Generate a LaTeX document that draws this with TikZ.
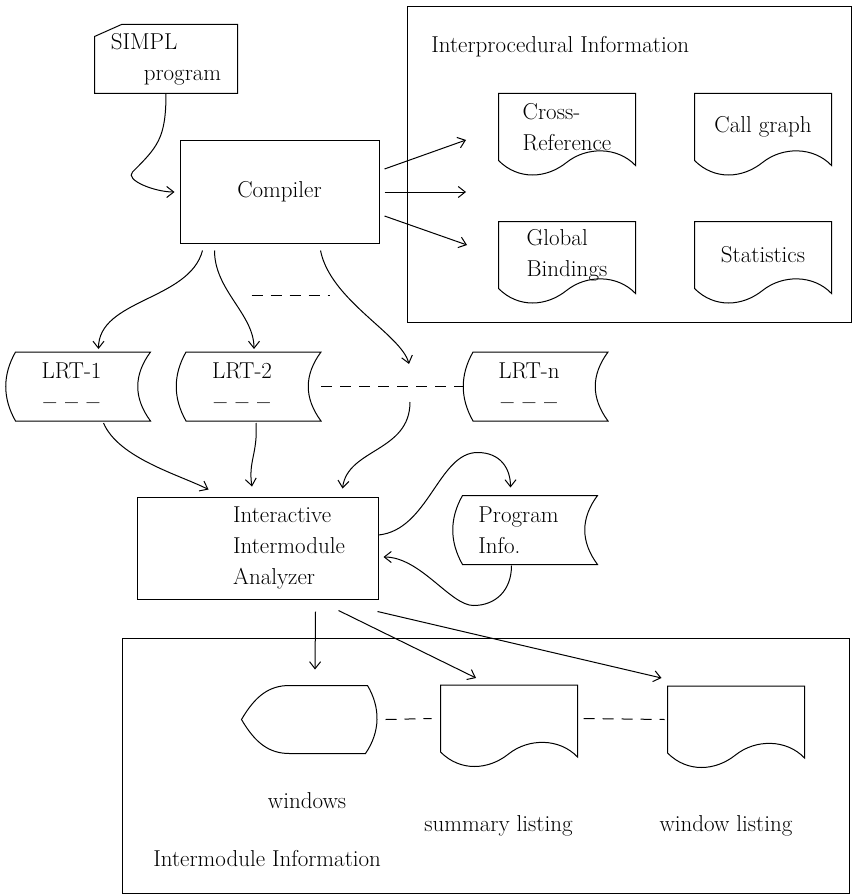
\documentclass[tikz,border=0pt]{standalone}
\usetikzlibrary{calc, arrows.meta}

\begin{document}
\begin{tikzpicture}[x=1pt, y=-1pt, line width=1pt,
  font=\fontsize{23}{31}\selectfont,
  arrowline/.style={-{Straight Barb[length=7pt,width=11pt]}},
  dashline/.style={dash pattern=on 11pt off 8pt},
  plainbox/.style={draw, inner sep=0pt},
  shapenode/.style={inner sep=0pt, align=left},
  docnode/.style={shapenode, minimum width=136pt, minimum height=66pt},
  storenode/.style={shapenode, minimum width=131pt, minimum height=68pt, align=center},
]
  \useasboundingbox (0,0) rectangle (856,896);

  % frames
  \node[plainbox, minimum width=444pt, minimum height=315pt] (ipbox) at (629,164.5) {};
  \node[plainbox, minimum width=727pt, minimum height=255pt] (imbox) at (485.5,765.5) {};
  \node[anchor=west] (iptitle) at ($(ipbox.north west)+(21,40)$) {Interprocedural Information};
  \node[anchor=west] (imtitle) at ($(imbox.south west)+(28,-35)$) {Intermodule Information};

  \node[shapenode, minimum width=142pt, minimum height=68pt] (simpl) at (166,59) {SIMPL\\\hspace*{33pt}program};
  \node[plainbox, minimum width=199pt, minimum height=102pt] (comp) at (279.5,192) {Compiler};
  \node[plainbox, minimum width=241pt, minimum height=102pt, align=left] (iia) at (257.5,548)
    {\hspace*{63pt}Interactive\\\hspace*{63pt}Intermodule\\\hspace*{63pt}Analyzer};

  \node[docnode] (cref) at (567,127) {Cross-\\Reference};
  \node[docnode] (cgraph) at (763,127) {Call graph};
  \node[docnode] (gbind) at (567,255) {Global\\Bindings};
  \node[docnode] (stats) at (763,255) {Statistics};
  \node[docnode] (summ) at (509,718.5) {};
  \node[docnode] (wlist) at (736,719.5) {};

  \node[storenode] (lrt1) at (71.5,386.5) {LRT-1\\{\bfseries\textendash\ \textendash\ \textendash}};
  \node[storenode] (lrt2) at (242,386.5) {LRT-2\\{\bfseries\textendash\ \textendash\ \textendash}};
  \node[storenode] (lrtn) at (529,386.5) {LRT-n\\{\bfseries\textendash\ \textendash\ \textendash}};
  \node[storenode, align=left] (pinfo) at (518.5,530) {Program\\Info.};

  \node[shapenode, minimum width=135pt, minimum height=67pt] (win) at (309.5,719.5) {};
  \node (winlbl) at ($(win.south)+(-2.5,47)$) {windows};
  \node (summlbl) at ($(summ.south)+(-10.5,74)$) {summary listing};
  \node (wlistlbl) at ($(wlist.south)+(-10,73)$) {window listing};

  % outlines
  \foreach \nm in {cref,cgraph,gbind,stats,summ,wlist}
    \draw (\nm.south west) -- (\nm.north west) -- (\nm.north east) -- ($(\nm.south east)+(0,5)$)
      .. controls +(-18,-19) and +(20,-16) .. ($(\nm.south west)+(68,2)$)
      .. controls +(-20,16) and +(20,20) .. (\nm.south west) -- cycle;
  \foreach \nm in {lrt1,lrt2,lrtn,pinfo}
    \draw ($(\nm.north west)+(10,0)$) -- ($(\nm.north east)+(13,0)$)
      .. controls +(-17,23) and +(-17,-23) .. ($(\nm.south east)+(13,0)$)
      -- ($(\nm.south west)+(10,0)$)
      .. controls +(-13,-23) and +(-13,23) .. ($(\nm.north west)+(10,0)$) -- cycle;
  \draw ($(simpl.north west)+(0,12)$) -- ($(simpl.north west)+(27,0)$) -- (simpl.north east)
    -- (simpl.south east) -- (simpl.south west) -- cycle;
  \draw (win.west) .. controls +(14,-24) and +(-20,0) .. ($(win.north west)+(48,0)$)
    -- ($(win.north east)+(-10,0)$) .. controls +(13,22) and +(15,-22) .. ($(win.south east)+(-12,0)$)
    -- ($(win.south west)+(48,0)$) .. controls +(-20,0) and +(14,24) .. (win.west) -- cycle;

  % free arrow ends
  \coordinate (ipin1) at (466,140);
  \coordinate (ipin2) at (466,192);
  \coordinate (ipin3) at (467,245);
  \coordinate (gapin) at (409,364);
  \coordinate (gapout) at (410,402);

  \draw[arrowline, shorten >=5pt] (simpl.south) .. controls +(0,45) and +(25,-25) .. ($(comp.west)+(-47,-20)$)
    .. controls +(-8,8) and +(-25,0) .. (comp.west);
  \draw[arrowline] ($(comp.east)+(5,-23)$) -- (ipin1);
  \draw[arrowline] ($(comp.east)+(5,0)$) -- (ipin2);
  \draw[arrowline] ($(comp.east)+(5,24)$) -- (ipin3);
  \draw[dashline] ($(comp.south)+(-28,52)$) -- ++(78,0);

  \draw[arrowline] ($(comp.south west)+(23,7)$) .. controls +(-13,50) and +(0,-50) .. ($(lrt1.north)+(27,-3)$);
  \draw[arrowline] ($(comp.south west)+(35,7)$) .. controls +(0,40) and +(0,-35) .. ($(lrt2.north)+(12,-3)$);
  \draw[arrowline] ($(comp.south east)+(-59,7)$) .. controls +(10,50) and +(-8,-30) .. (gapin);
  \draw[dashline] ($(lrt2.east)+(13,0)$) -- (lrtn.west);

  \draw[arrowline] ($(lrt1.south)+(32,2)$) .. controls +(15,35) and +(-30,-15) .. ($(iia.north west)+(72,-7)$);
  \draw[arrowline] ($(lrt2.south)+(14,2)$) .. controls +(2,30) and +(-4,-25) .. ($(iia.north)+(-5.5,-10)$);
  \draw[arrowline] (gapout) .. controls +(0,50) and +(5,-40) .. ($(iia.north east)+(-36,-8)$);

  % loop through the program info store
  \draw[arrowline] ($(iia.east)+(0,-13)$) .. controls +(50,-5) and +(-39,0) .. ($(pinfo.north)+(-41,-43)$)
    .. controls +(23,0) and +(0,-19) .. ($(pinfo.north)+(-8,-8)$);
  \draw[arrowline] ($(pinfo.south)+(-7,1)$) .. controls +(0,25) and +(22,0) .. ($(pinfo.south)+(-45,41)$)
    .. controls +(-23,0) and +(37,0) .. ($(iia.east)+(5,9)$);

  \draw[arrowline] ($(iia.south east)+(-63,12)$) -- ($(win.north)+(5.5,-16)$);
  \draw[arrowline] ($(iia.south east)+(-40,11)$) -- ($(summ.north)+(-33,-7)$);
  \draw[arrowline] ($(iia.south east)+(-1,12)$) -- ($(wlist.north west)+(-6,-8)$);
  \draw[dashline] ($(win.east)+(8,0)$) -- ($(summ.west)+(-9,0)$);
  \draw[dashline] ($(summ.east)+(6,0)$) -- ($(wlist.west)+(-3,0)$);
\end{tikzpicture}
\end{document}
